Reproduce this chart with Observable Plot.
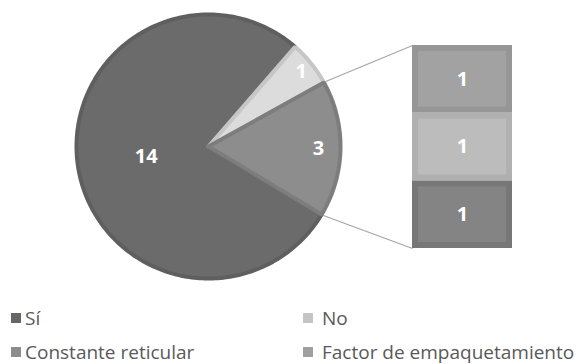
<!DOCTYPE html>
<html>
<head>
<meta charset="utf-8">
<script src="https://cdn.jsdelivr.net/npm/d3@7"></script>
<script src="https://cdn.jsdelivr.net/npm/@observablehq/plot@0.6"></script>
<style>
  body { margin: 0; background: #fff; }
  #chart { position: relative; width: 580px; height: 364px; font-family: "Open Sans", Lato, sans-serif; }
  #chart svg { position: absolute; left: 0; top: 0; background: transparent; }
  .key { position: absolute; display: flex; align-items: center; font-size: 19px; color: #595959; white-space: nowrap; }
  .key span.sw { width: 10px; height: 10px; display: inline-block; }
</style>
</head>
<body>
<div id="chart"></div>
<script>
// Main pie: answers, with the last slice broken out into the side bar
const pieCategories = ["Sí", "No", "Otros"];
const pieValues = [14, 1, 3];

// Side bar: breakdown of "Otros", listed bottom to top
const barCategories = ["Constante reticular", "Otros parámetros", "Factor de empaquetamiento"];
const barValues = [1, 1, 1];

// Legend entries
const legendCategories = ["Sí", "No", "Constante reticular", "Factor de empaquetamiento"];

// Styling
const fillOf = {
  "Sí": "#6b6b6b", "No": "#dcdcdc", "Otros": "#8d8d8d",
  "Constante reticular": "#848484", "Otros parámetros": "#bcbcbc", "Factor de empaquetamiento": "#a2a2a2"
};
const strokeOf = {
  "Sí": "#5f5f5f", "No": "#c6c6c6", "Otros": "#7d7d7d",
  "Constante reticular": "#777777", "Otros parámetros": "#b0b0b0", "Factor de empaquetamiento": "#969696"
};
const legendFill = {
  "Sí": "#666666", "No": "#c4c4c4", "Constante reticular": "#8c8c8c", "Factor de empaquetamiento": "#a0a0a0"
};
const labelFont = {fill: "white", fontSize: 20, fontWeight: "bold", fontFamily: "'Open Sans', sans-serif"};

// Layout
const W = 580, H = 295;
const cx = 208, cy = 146, R = 134;
const startDeg = 121;                       // clockwise from north
const labelRadius = {"Sí": 0.47, "No": 0.89, "Otros": 0.82};
const barTop = 45, barBottom = 248, barLeft = 412, barRight = 512;

const pieTable = pieCategories.map((c, i) => ({category: c, value: pieValues[i]}));
const arcs = d3.pie().sort(null).value(d => d.value)
  .startAngle(startDeg * Math.PI / 180)
  .endAngle((startDeg + 360) * Math.PI / 180)(pieTable);

const px = (a, r) => cx + r * Math.sin(a);
const py = (a, r) => cy - r * Math.cos(a);

// Slice outlines as closed polygons
const rIn = R - 2;
const slicePts = [];
for (const a of arcs) {
  const n = Math.max(8, Math.ceil((a.endAngle - a.startAngle) / 0.02));
  slicePts.push({category: a.data.category, x: cx, y: cy});
  for (let k = 0; k <= n; k++) {
    const t = a.startAngle + (a.endAngle - a.startAngle) * k / n;
    slicePts.push({category: a.data.category, x: px(t, rIn), y: py(t, rIn)});
  }
  slicePts.push({category: a.data.category, x: cx, y: cy});
}

const sliceLabels = arcs.map(a => {
  const m = (a.startAngle + a.endAngle) / 2, r = R * labelRadius[a.data.category];
  return {category: a.data.category, value: a.data.value, x: px(m, r), y: py(m, r)};
});

// Connectors from the broken-out slice to the bar corners
const other = arcs.find(a => a.data.category === "Otros");
const connectors = [
  {x1: px(other.startAngle, R), y1: py(other.startAngle, R), x2: barLeft, y2: barTop},
  {x1: px(other.endAngle, R), y1: py(other.endAngle, R), x2: barLeft, y2: barBottom}
];

const pie = Plot.plot({
  width: W, height: H, margin: 0,
  x: {domain: [0, W], range: [0, W], axis: null},
  y: {domain: [0, H], range: [0, H], axis: null},
  marks: [
    Plot.link(connectors, {x1: "x1", y1: "y1", x2: "x2", y2: "y2", stroke: "#a6a6a6", strokeWidth: 1.2}),
    Plot.line(slicePts, {x: "x", y: "y", z: "category",
      fill: d => fillOf[d.category], stroke: d => strokeOf[d.category],
      strokeWidth: 4, strokeLinejoin: "miter"}),
    Plot.text(sliceLabels, {x: "x", y: "y", text: d => String(d.value), ...labelFont})
  ]
});

const barTable = barCategories.map((c, i) => ({category: c, value: barValues[i], group: "Otros"}));
const bar = Plot.plot({
  width: W, height: H,
  marginLeft: barLeft, marginRight: W - barRight, marginTop: barTop, marginBottom: H - barBottom,
  x: {domain: ["Otros"], padding: 0, axis: null},
  y: {domain: [0, d3.sum(barValues)], axis: null},
  marks: [
    Plot.barY(barTable, {x: "group", y: "value", order: null,
      fill: d => fillOf[d.category], stroke: d => strokeOf[d.category], strokeWidth: 6, inset: 3}),
    Plot.text(barTable, Plot.stackY({x: "group", y: "value", order: null,
      text: d => String(d.value), ...labelFont}))
  ]
});

const root = document.getElementById("chart");
root.appendChild(pie);
root.appendChild(bar);

// Legend, two columns: swatch position and text offset per column
const cols = [{x: 11, gap: 4}, {x: 303, gap: 9}], rows = [318, 352];
legendCategories.forEach((c, i) => {
  const col = cols[i % 2];
  const el = document.createElement("div");
  el.className = "key";
  el.style.left = col.x + "px";
  el.style.top = (rows[Math.floor(i / 2)] - 12) + "px";
  el.style.height = "24px";
  el.innerHTML = `<span class="sw" style="background:${legendFill[c]};margin-right:${col.gap}px"></span>${c}`;
  root.appendChild(el);
});
</script>
</body>
</html>
